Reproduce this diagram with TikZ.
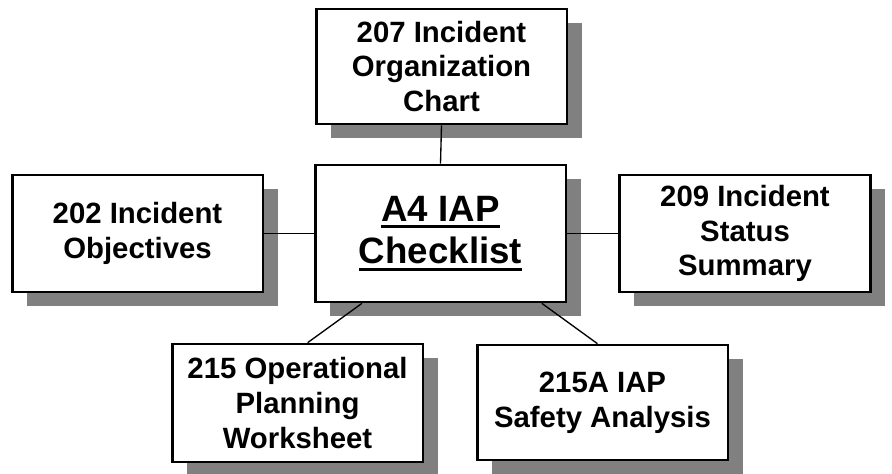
\documentclass[tikz,border=0pt]{standalone}
\usepackage{fontspec}
\setmainfont{Liberation Sans}
\usetikzlibrary{calc,shadows}
\newcommand{\ulin}[1]{\setbox0\hbox{#1}\rlap{\vrule width\wd0 height -3pt depth 5.5pt}\box0}

\begin{document}
\begin{tikzpicture}[x=0.75pt,y=-0.75pt,
    form/.style={draw,line width=2pt,fill=white,align=center,
      font=\bfseries\fontsize{22}{26}\selectfont,
      minimum width=188pt,minimum height=87.75pt,inner sep=2pt,
      drop shadow={shadow xshift=11pt,shadow yshift=-10.5pt,fill=black!50,opacity=1}},
    link/.style={line width=1pt}]
    \useasboundingbox (0,0) rectangle (892,474);

    % forms
    \node[form,minimum height=86.25pt] (org) at (441.5,66.5) {207 Incident\\Organization\\Chart};
    \node[form,minimum height=102.75pt,font=\bfseries\fontsize{27.5}{32}\selectfont]
      (chk) at (440.5,233.5) {\ulin{A4 IAP}\\\ulin{Checklist}};
    \node[form] (obj) at (137.5,233.5) {202 Incident\\Objectives};
    \node[form] (sts) at (745,233.5) {209 Incident\\Status\\Summary};
    \node[form,minimum height=88.5pt] (ops) at (297.5,403) {215 Operational\\Planning\\Worksheet};
    \node[form,minimum height=86.25pt] (saf) at (602.5,402.5) {215A IAP\\Safety Analysis};

    % links
    \draw[link](org.south)--(chk.north);
    \draw[link](obj.east)--(chk.west);
    \draw[link](chk.east)--(sts.west);
    \draw[link]($(chk.south west)!.19!(chk.south east)$)--($(ops.north west)!.54!(ops.north east)$);
    \draw[link]($(chk.south west)!.9!(chk.south east)$)--($(saf.north west)!.48!(saf.north east)$);
  \end{tikzpicture}
\end{document}
